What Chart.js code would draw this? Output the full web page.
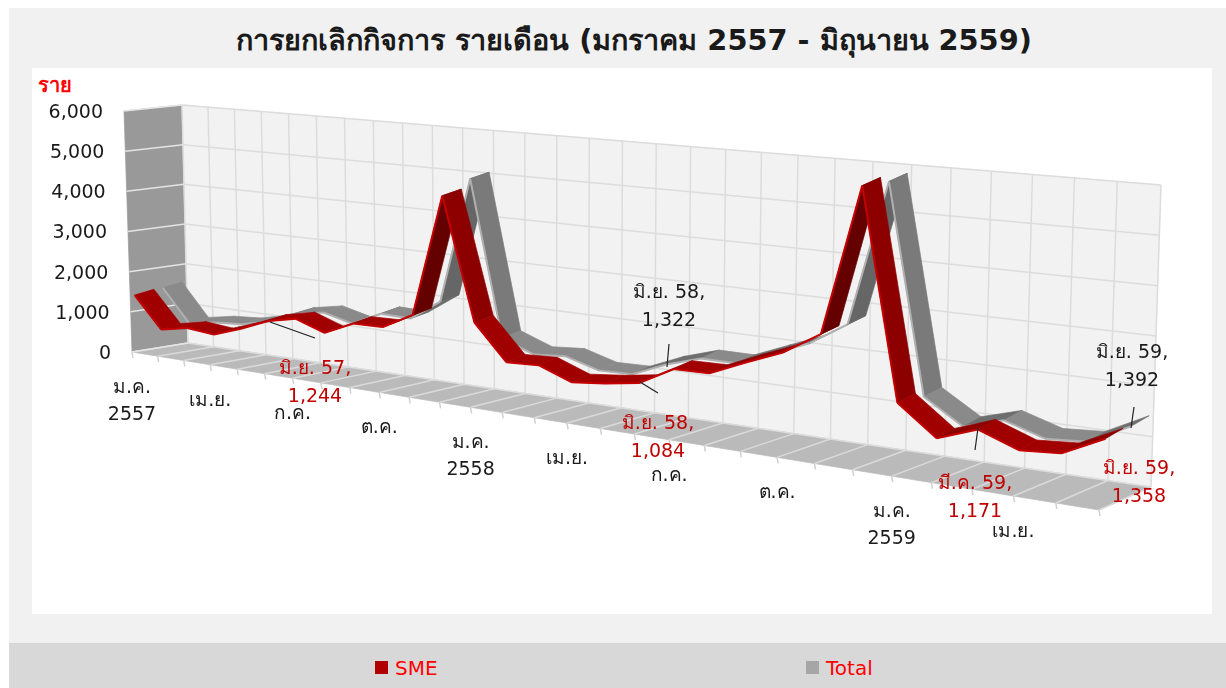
<!DOCTYPE html>
<html>
    <head>
        <meta charset="utf-8">
        <title>การยกเลิกกิจการ รายเดือน</title>
        <script src="https://cdn.jsdelivr.net/npm/chart.js@4/dist/chart.umd.min.js"></script>
        <style>
            html, body { margin: 0; padding: 0; background: #fff; overflow: hidden; }
            #page { position: absolute; left: 9px; top: 8px; width: 1217px; height: 635px; background: #f1f1f1; }
            #plot { position: absolute; left: 32px; top: 68px; width: 1180px; height: 546px; background: #fff; }
            #band { position: absolute; left: 9px; top: 643px; width: 1217px; height: 45px; background: #d8d8d8; }
            #myChart { position: absolute; left: 0; top: 0; }
            .title, .unit, .leg { position: absolute; font-family: "DejaVu Sans", "Noto Sans", sans-serif; white-space: nowrap; }
            .title { left: 0; width: 1268px; top: 22px; text-align: center; color: #1a1a1a; font-size: 28.8px; line-height: 36px; font-weight: bold; }
            .unit { left: 38px; top: 69px; color: #f00; font-size: 20px; font-weight: bold; }
            .leg { top: 656px; color: #f00; font-size: 20px; }
            .key { position: absolute; top: 661px; width: 13px; height: 13px; }
        </style>
    </head>
    <body>
        <div id="page"></div>
        <div id="plot"></div>
        <div id="band"></div>
        <div class="title">การยกเลิกกิจการ รายเดือน (มกราคม 2557 - มิถุนายน 2559)</div>
        <div class="unit">ราย</div>
        <div class="key" style="left:375px;background:#b00000"></div>
        <div class="leg" style="left:395px">SME</div>
        <div class="key" style="left:806px;background:#a6a6a6"></div>
        <div class="leg" style="left:826px">Total</div>
        <canvas id="myChart" width="1226" height="688"></canvas>

        <script>
            var months = ["ม.ค. 57", "ก.พ. 57", "มี.ค. 57", "เม.ย. 57", "พ.ค. 57", "มิ.ย. 57", "ก.ค. 57", "ส.ค. 57", "ก.ย. 57", "ต.ค. 57", "พ.ย. 57", "ธ.ค. 57",
                          "ม.ค. 58", "ก.พ. 58", "มี.ค. 58", "เม.ย. 58", "พ.ค. 58", "มิ.ย. 58", "ก.ค. 58", "ส.ค. 58", "ก.ย. 58", "ต.ค. 58", "พ.ย. 58", "ธ.ค. 58",
                          "ม.ค. 59", "ก.พ. 59", "มี.ค. 59", "เม.ย. 59", "พ.ค. 59", "มิ.ย. 59"];
            var sme = [1400, 640, 780, 720, 960, 1244, 1396, 1160, 1480, 1500, 1880, 4710,
                       1900, 1110, 1150, 880, 965, 1084, 1500, 1520, 1860, 2180, 2670, 5850,
                       1470, 870, 1171, 880, 945, 1358];
            var total = [1480, 680, 800, 850, 1010, 1290, 1420, 1250, 1580, 1560, 2050, 4980,
                         1400, 1130, 1190, 980, 1000, 1322, 1560, 1560, 1880, 2200, 2700, 5780,
                         1400, 905, 1150, 900, 960, 1392];
            var valueTicks = [0, 6000, 1000];
            var xTickEvery = 3;
            var xTickLabels = [["ม.ค.", "2557"], ["เม.ย."], ["ก.ค."], ["ต.ค."], ["ม.ค.", "2558"], ["เม.ย."], ["ก.ค."], ["ต.ค."], ["ม.ค.", "2559"], ["เม.ย."]];

            var FONT = '"DejaVu Sans", "Noto Sans", sans-serif';

            // corners of the 3D box on screen: front/back floor and top, left and right end
            var box = {
                f0: [132, 352], f1: [1099, 510], b0: [188, 343], b1: [1151, 487],
                tf0: [124, 111], tf1: [1109, 203], tb0: [182, 105], tb1: [1161, 185]
            };
            var PERSP = 1.31;
            var LIFT = 3; // ribbons look a bit fatter than their depth alone gives

            function lerp(a, b, t) { return [a[0] + (b[0] - a[0]) * t, a[1] + (b[1] - a[1]) * t]; }

            // flat pixel from the chart scales -> screen position inside the box, d = depth 0..1
            function project(chart, px, py, d) {
                var area = chart.chartArea;
                var u = (px - area.left) / area.width;
                var v = (area.bottom - py) / area.height;
                var f = u / (u + PERSP * (1 - u));
                var floor = lerp(lerp(box.f0, box.f1, f), lerp(box.b0, box.b1, f), d);
                var top = lerp(lerp(box.tf0, box.tf1, f), lerp(box.tb0, box.tb1, f), d);
                return lerp(floor, top, v);
            }

            function poly(ctx, pts, fill) {
                ctx.beginPath();
                pts.forEach(function (p, i) { i ? ctx.lineTo(p[0], p[1]) : ctx.moveTo(p[0], p[1]); });
                ctx.closePath();
                ctx.fillStyle = fill;
                ctx.strokeStyle = fill;
                ctx.lineWidth = 0.7;
                ctx.fill();
                ctx.stroke();
            }

            function seg(ctx, a, b, color, width) {
                ctx.beginPath();
                ctx.moveTo(a[0], a[1]);
                ctx.lineTo(b[0], b[1]);
                ctx.strokeStyle = color;
                ctx.lineWidth = width;
                ctx.stroke();
            }

            var walls = {
                id: 'walls',
                beforeDatasetsDraw: function (chart) {
                    var ctx = chart.ctx, area = chart.chartArea;
                    var xs = chart.scales.x, ys = chart.scales.y;
                    var l = area.left, r = area.right, t = area.top, b = area.bottom;
                    ctx.save();
                    poly(ctx, [project(chart, l, t, 0), project(chart, l, t, 1), project(chart, l, b, 1), project(chart, l, b, 0)], '#999999');
                    poly(ctx, [project(chart, l, t, 1), project(chart, r, t, 1), project(chart, r, b, 1), project(chart, l, b, 1)], '#f2f2f2');
                    poly(ctx, [project(chart, l, b, 0), project(chart, l, b, 1), project(chart, r, b, 1), project(chart, r, b, 0)], '#bababa');

                    months.forEach(function (m, i) {
                        var x = xs.getPixelForValue(i);
                        seg(ctx, project(chart, x, t, 1), project(chart, x, b, 1), '#dcdcdc', 1.5);
                        seg(ctx, project(chart, x, b, 0), project(chart, x, b, 1), '#dadada', 1.5);
                        var p = project(chart, x, b, 0);
                        seg(ctx, p, [p[0] + 1, p[1] + 6], '#d0d0d0', 1.5);
                    });
                    ys.ticks.forEach(function (tk) {
                        var y = ys.getPixelForValue(tk.value);
                        seg(ctx, project(chart, l, y, 0), project(chart, l, y, 1), '#e4e4e4', 1.5);
                        seg(ctx, project(chart, l, y, 1), project(chart, r, y, 1), '#dcdcdc', 1.5);
                    });
                    ctx.restore();
                }
            };

            // each series is a flat band running between two depths, shaded by its slope
            var ribbons = {
                id: 'ribbons',
                beforeDatasetsDraw: function (chart) {
                    var ctx = chart.ctx;
                    [1, 0].forEach(function (ds) {
                        var pts = chart.getDatasetMeta(ds).data;
                        var st = chart.data.datasets[ds].ribbon;
                        for (var i = 0; i < pts.length - 1; i++) {
                            var a = pts[i], c = pts[i + 1];
                            var slope = (c.y - a.y) / (c.x - a.x);
                            var fill = slope < -1 ? st.up : slope < -0.2 ? st.rise : slope > 2 ? st.down : st.flat;
                            var a0 = project(chart, a.x, a.y, st.d0), c0 = project(chart, c.x, c.y, st.d0);
                            var a1 = project(chart, a.x, a.y, st.d1), c1 = project(chart, c.x, c.y, st.d1);
                            a1[1] -= LIFT;
                            c1[1] -= LIFT;
                            poly(ctx, [a0, c0, c1, a1], fill);
                            seg(ctx, a0, c0, st.edge, 2);
                        }
                    });
                }
            };

            // data labels with their leader lines
            var notes = [
                { ds: 0, i: 5, color: '#c00000', x: 315, y: 369, line: [[270, 322], [315, 338]] },
                { ds: 1, i: 17, color: '#1a1a1a', x: 669, y: 293, line: [[667, 367], [669, 344]] },
                { ds: 0, i: 17, color: '#c00000', x: 658, y: 424, line: [[640, 382], [658, 393]] },
                { ds: 0, i: 26, color: '#c00000', x: 975, y: 484, line: [[978, 428], [975, 450]] },
                { ds: 1, i: 29, color: '#1a1a1a', x: 1132, y: 353, line: [[1131, 428], [1134, 407]] },
                { ds: 0, i: 29, color: '#c00000', x: 1139, y: 469, line: null }
            ];

            var axisText = {
                id: 'axisText',
                afterDatasetsDraw: function (chart) {
                    var ctx = chart.ctx, area = chart.chartArea;
                    var xs = chart.scales.x, ys = chart.scales.y;
                    ctx.save();
                    ctx.font = '19px ' + FONT;
                    ctx.textBaseline = 'middle';
                    ctx.fillStyle = '#1a1a1a';

                    ctx.textAlign = 'right';
                    ys.ticks.forEach(function (tk) {
                        var p = project(chart, area.left, ys.getPixelForValue(tk.value), 0);
                        ctx.fillText(tk.label, p[0] - 21, p[1] + 2);
                    });

                    ctx.textAlign = 'center';
                    xTickLabels.forEach(function (lines, n) {
                        var p = project(chart, xs.getPixelForValue(n * xTickEvery), area.bottom, 0);
                        lines.forEach(function (txt, k) {
                            ctx.fillText(txt, p[0], p[1] + 36 + k * 27);
                        });
                    });

                    notes.forEach(function (n) {
                        if (n.line) seg(ctx, n.line[0], n.line[1], '#222222', 1.2);
                        ctx.fillStyle = n.color;
                        var val = chart.data.datasets[n.ds].data[n.i];
                        ctx.fillText(months[n.i] + ',', n.x, n.y);
                        ctx.fillText(val.toLocaleString('en-US'), n.x, n.y + 28);
                    });
                    ctx.restore();
                }
            };

            var ctx = document.getElementById('myChart').getContext('2d');
            var chart = new Chart(ctx, {
                type: 'line',
                data: {
                    labels: months,
                    datasets: [{
                        label: 'SME',
                        data: sme,
                        showLine: false,
                        pointRadius: 0,
                        ribbon: { d0: 0.08, d1: 0.42, flat: '#a00000', rise: '#8c0000', up: '#640000', down: '#8c0000', edge: '#c40000' }
                    }, {
                        label: 'Total',
                        data: total,
                        showLine: false,
                        pointRadius: 0,
                        ribbon: { d0: 0.58, d1: 0.92, flat: '#8a8a8a', rise: '#6e6e6e', up: '#666666', down: '#7a7a7a', edge: '#b0b0b0' }
                    }]
                },
                options: {
                    responsive: false,
                    animation: false,
                    devicePixelRatio: 1,
                    layout: { padding: { left: 133, right: 127, top: 112, bottom: 336 } },
                    scales: {
                        x: { display: false, ticks: { autoSkip: false } },
                        y: {
                            display: false,
                            min: valueTicks[0],
                            max: valueTicks[1],
                            ticks: {
                                stepSize: valueTicks[2],
                                callback: function (v) { return v.toLocaleString('en-US'); }
                            }
                        }
                    },
                    plugins: {
                        legend: { display: false },
                        tooltip: { enabled: false }
                    }
                },
                plugins: [walls, ribbons, axisText]
            });
        </script>
    </body>
</html>
